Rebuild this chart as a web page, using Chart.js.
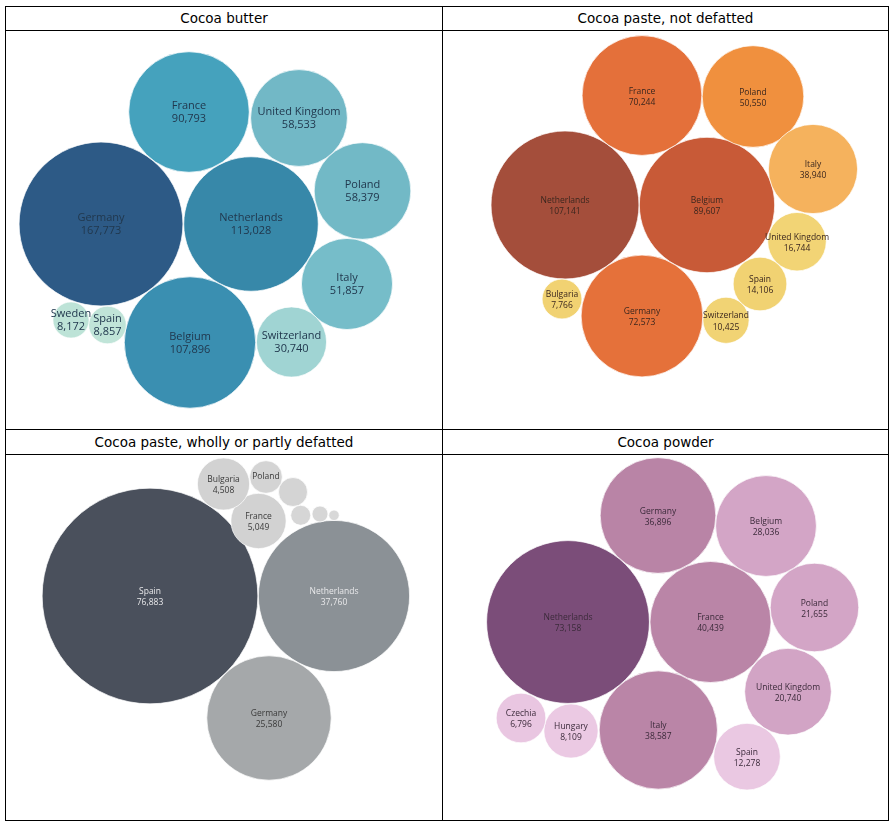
<!DOCTYPE html>
<html>
<head>
<meta charset="utf-8">
<script src="https://cdn.jsdelivr.net/npm/chart.js@4/dist/chart.umd.min.js"></script>
<style>
  html, body { margin: 0; padding: 0; background: #fff; }
  body { width: 892px; height: 823px; position: relative; overflow: hidden; }
  .line { position: absolute; background: #000; }
  .title { position: absolute; height: 23px; line-height: 23px; text-align: center;
           font-family: "DejaVu Sans", Verdana, sans-serif; font-size: 13.5px; color: #000; }
  .body { position: absolute; }
</style>
</head>
<body>
<div class="line" style="left:5px;top:6px;width:884px;height:1px"></div>
<div class="line" style="left:5px;top:30px;width:884px;height:1px"></div>
<div class="line" style="left:5px;top:429px;width:884px;height:1px"></div>
<div class="line" style="left:5px;top:454px;width:884px;height:1px"></div>
<div class="line" style="left:5px;top:820px;width:884px;height:1px"></div>
<div class="line" style="left:5px;top:6px;width:1px;height:815px"></div>
<div class="line" style="left:442px;top:6px;width:1px;height:815px"></div>
<div class="line" style="left:888px;top:6px;width:1px;height:815px"></div>

<div class="title" style="left:6px;top:7px;width:436px">Cocoa butter</div>
<div class="title" style="left:443px;top:7px;width:445px">Cocoa paste, not defatted</div>
<div class="title" style="left:6px;top:431px;width:436px">Cocoa paste, wholly or partly defatted</div>
<div class="title" style="left:443px;top:431px;width:445px">Cocoa powder</div>

<div class="body" style="left:6px;top:31px;width:436px;height:398px"><canvas id="butter"></canvas></div>
<div class="body" style="left:443px;top:31px;width:445px;height:398px"><canvas id="paste"></canvas></div>
<div class="body" style="left:6px;top:455px;width:436px;height:365px"><canvas id="defatted"></canvas></div>
<div class="body" style="left:443px;top:455px;width:445px;height:365px"><canvas id="powder"></canvas></div>

<script>
// Cocoa butter
const butterCountries = ["Germany", "Netherlands", "Belgium", "France", "United Kingdom", "Poland", "Italy", "Switzerland", "Spain", "Sweden"];
const butterValues = [167773, 113028, 107896, 90793, 58533, 58379, 51857, 30740, 8857, 8172];
const butterX = [95, 245, 184, 183, 293, 356.5, 341, 285.5, 101.5, 65];
const butterY = [193, 193, 311.5, 81, 87, 160, 253, 311, 294, 289];

// Cocoa paste, not defatted
const pasteCountries = ["Netherlands", "Belgium", "Germany", "France", "Poland", "Italy", "United Kingdom", "Spain", "Switzerland", "Bulgaria"];
const pasteValues = [107141, 89607, 72573, 70244, 50550, 38940, 16744, 14106, 10425, 7766];
const pasteX = [122, 264, 199, 199, 310, 370, 354, 317, 283, 119];
const pasteY = [174, 174, 285, 64.5, 65.5, 138, 210.7, 253, 289.3, 268];

// Cocoa paste, wholly or partly defatted (four small bubbles carry no label in the source)
const defattedCountries = ["Spain", "Netherlands", "Germany", "France", "Bulgaria", "Poland", "(unlabelled 1)", "(unlabelled 2)", "(unlabelled 3)", "(unlabelled 4)"];
const defattedValues = [76883, 37760, 25580, 5049, 4508, 1760, 1390, 660, 420, 180];
const defattedX = [144, 328, 263, 252.5, 217.5, 260, 287, 294.7, 314, 328];
const defattedY = [141, 141, 263, 66, 29, 22, 37, 60.3, 59, 60.3];

// Cocoa powder
const powderCountries = ["Netherlands", "France", "Italy", "Germany", "Belgium", "Poland", "United Kingdom", "Spain", "Hungary", "Czechia"];
const powderValues = [73158, 40439, 38587, 36896, 28036, 21655, 20740, 12278, 8109, 6796];
const powderX = [125, 267.5, 215.3, 215, 323, 371.5, 345, 304, 128, 78];
const powderY = [167, 167, 275, 60.5, 71, 152.5, 236.7, 301.7, 276, 263];

const butterColors = ["#2d5a86", "#3788a9", "#3a8fb1", "#45a2bd", "#72b8c6", "#72b9c6", "#76bdc9", "#a0d4d3", "#c0e4d8", "#bde3d7"];
const pasteColors = ["#a44e3b", "#c85a37", "#e5713a", "#e4703a", "#f0903e", "#f5b25d", "#f2d475", "#f1d272", "#f1d374", "#f1d272"];
const defattedColors = ["#4a505c", "#8b9196", "#a5a8aa", "#d2d2d2", "#d2d2d2", "#d4d4d4", "#d4d4d4", "#d6d6d6", "#d6d6d6", "#d8d8d8"];
const powderColors = ["#7b4d79", "#ba85a7", "#ba85a7", "#b984a6", "#d3a5c6", "#d3a5c6", "#d2a4c5", "#eac8e2", "#ebc9e3", "#e9c6e1"];

const labelPlugin = {
    id: "bubbleLabels",
    afterDatasetsDraw(chart) {
        const cfg = chart.options.plugins.bubbleLabels;
        const ds = chart.data.datasets[0];
        const meta = chart.getDatasetMeta(0);
        const ctx = chart.ctx;
        ctx.save();
        ctx.textAlign = "center";
        ctx.textBaseline = "middle";
        ctx.font = `${cfg.size}px "Open Sans", sans-serif`;
        meta.data.forEach((el, i) => {
            const r = el.options.radius;
            if (r < 15.5) return;
            ctx.fillStyle = (cfg.light || []).includes(i) ? "#e8e8ea" : cfg.color;
            const name = ds.names[i];
            if (r >= 17) {
                ctx.fillText(name, el.x, el.y - cfg.gap + cfg.shift);
                ctx.fillText(ds.values[i].toLocaleString("en-US"), el.x, el.y + cfg.gap + cfg.shift);
            } else {
                ctx.fillText(name, el.x, el.y);
            }
        });
        ctx.restore();
    }
};

function makePanel(id, names, values, xs, ys, colors, opts) {
    const box = document.getElementById(id).parentNode;
    const w = box.clientWidth, h = box.clientHeight;
    return new Chart(document.getElementById(id), {
        type: "bubble",
        data: {
            datasets: [{
                names: names,
                values: values,
                data: values.map((v, i) => ({ x: xs[i], y: ys[i], r: opts.k * Math.sqrt(v) })),
                backgroundColor: colors,
                borderColor: "rgba(255,255,255,0.7)",
                borderWidth: 1
            }]
        },
        options: {
            responsive: true,
            maintainAspectRatio: false,
            animation: false,
            events: [],
            layout: { padding: 0, autoPadding: false },
            scales: {
                x: { type: "linear", display: false, min: 0, max: w },
                y: { type: "linear", display: false, min: 0, max: h, reverse: true }
            },
            plugins: {
                legend: { display: false },
                tooltip: { enabled: false },
                bubbleLabels: { size: opts.size, gap: opts.gap, shift: opts.shift, color: opts.color, light: opts.light }
            }
        },
        plugins: [labelPlugin]
    });
}

makePanel("butter", butterCountries, butterValues, butterX, butterY, butterColors,
    { k: 0.2, size: 11, gap: 6.6, shift: 0.6, color: "#21384e" });
makePanel("paste", pasteCountries, pasteValues, pasteX, pasteY, pasteColors,
    { k: 0.226, size: 8.5, gap: 5.7, shift: 1.3, color: "#3a261e" });
makePanel("defatted", defattedCountries, defattedValues, defattedX, defattedY, defattedColors,
    { k: 0.389, size: 8.5, gap: 5.7, shift: 1.3, color: "#3a3a3a", light: [0, 1] });
makePanel("powder", powderCountries, powderValues, powderX, powderY, powderColors,
    { k: 0.301, size: 8.5, gap: 5.7, shift: 1.3, color: "#3b2a3a" });
</script>
</body>
</html>
